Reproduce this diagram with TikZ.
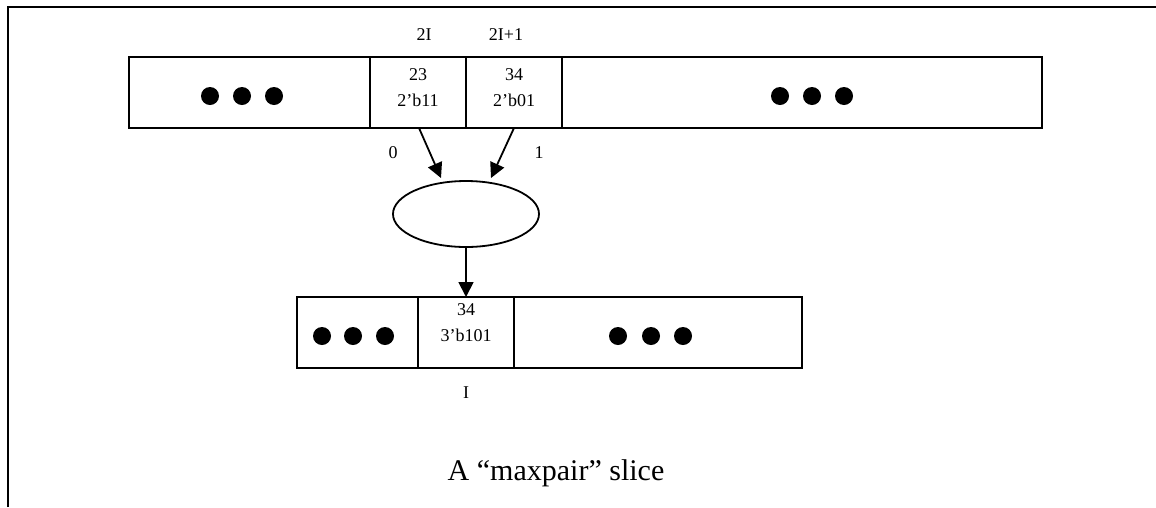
\documentclass[tikz,border=0pt]{standalone}
\usepackage{fontspec}
\setmainfont{Liberation Serif}
\usetikzlibrary{arrows.meta,shapes.geometric}
\begin{document}
\begin{tikzpicture}[x=1pt,y=-1pt,
  cellbox/.style={draw,line width=1.8pt},
  dotmark/.style={fill=black,draw=none},
  celltext/.style={font=\fontsize{18}{26}\selectfont,align=center,inner sep=0pt},
  lbl/.style={font=\fontsize{18}{22}\selectfont,inner sep=0pt},
  conn/.style={line width=1.8pt,-{Triangle[length=15pt,width=15pt]}}]
\useasboundingbox (0,0) rectangle (1156,507);
% frame
\draw[line width=2.2pt] (8,507) -- (8,7) -- (1156,7);
% top array
\draw[cellbox] (129,57) rectangle (1042,128);
\draw[cellbox] (370,57) -- (370,128);
\draw[cellbox] (466,57) -- (466,128);
\draw[cellbox] (562,57) -- (562,128);
\foreach \x in {210,242,274} \fill[dotmark] (\x,96) circle (9);
\foreach \x in {780,812,844} \fill[dotmark] (\x,96) circle (9);
\node[celltext] (c1) at (418,88) {23\\2’b11};
\node[celltext] (c2) at (514,88) {34\\2’b01};
\coordinate (c1b) at (419,128);
\coordinate (c2b) at (514,128);
\node[lbl] (l2i) at (424,35) {2I};
\node[lbl] (l2i1) at (506,35) {2I+1};
% ellipse
\node[draw,ellipse,line width=1.8pt,minimum width=146pt,minimum height=66pt,inner sep=0pt] (op) at (466,214) {};
\coordinate (t1) at (441,178);
\coordinate (t2) at (491,178);
\draw[conn] (c1b) -- (t1);
\draw[conn] (c2b) -- (t2);
\node[lbl] (l0) at (393,153) {0};
\node[lbl] (l1) at (539,153) {1};
% bottom array
\draw[cellbox] (297,297) rectangle (802,368);
\draw[cellbox] (418,297) -- (418,368);
\draw[cellbox] (514,297) -- (514,368);
\foreach \x in {322,353,385} \fill[dotmark] (\x,336) circle (9);
\foreach \x in {618,651,683} \fill[dotmark] (\x,336) circle (9);
\node[celltext] (c3) at (466,323) {34\\3’b101};
\coordinate (c3t) at (466,297);
\draw[conn] (op.south) -- (c3t);
\node[lbl] (li) at (466,393) {I};
% caption
\node[font=\fontsize{30}{36}\selectfont,inner sep=0pt] (cap) at (556,473) {A “maxpair” slice};
\end{tikzpicture}
\end{document}
